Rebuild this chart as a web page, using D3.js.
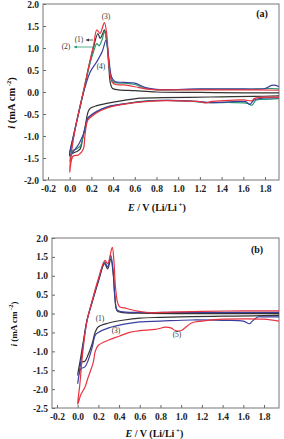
<!DOCTYPE html>
<html>
<head>
<meta charset="utf-8">
<script src="https://cdn.jsdelivr.net/npm/d3@7"></script>
<style>
  body { margin: 0; background: #fff; }
  svg { display: block; }
</style>
</head>
<body>
<div id="chart"></div>
<script>
// tick values
var aXTicks = [-0.2, 0.0, 0.2, 0.4, 0.6, 0.8, 1.0, 1.2, 1.4, 1.6, 1.8];
var aYTicks = [-2.0, -1.5, -1.0, -0.5, 0.0, 0.5, 1.0, 1.5, 2.0];
var bXTicks = aXTicks;
var bYTicks = [-2.5, -2.0, -1.5, -1.0, -0.5, 0.0, 0.5, 1.0, 1.5, 2.0];

// panel (a) curves [E, i], cathodic sweep then anodic sweep
var a1 = [[1.93,-0.09],[1.7,-0.1],[1.4,-0.11],[1.1,-0.12],[0.85,-0.13],[0.65,-0.14],[0.5,-0.19],[0.34,-0.26],[0.25,-0.31],[0.19,-0.37],[0.17,-0.45],[0.145,-0.75],[0.12,-1.05],[0.095,-1.3],[0.06,-1.36],[0.03,-1.39],[0.0,-1.44],
  [0.03,-1.05],[0.06,-0.72],[0.098,-0.32],[0.14,0.15],[0.18,0.62],[0.22,1.02],[0.26,1.33],[0.28,1.22],[0.30,1.3],[0.32,1.41],[0.34,1.2],[0.36,0.6],[0.375,0.2],[0.395,0.08],[0.45,0.05],[0.6,0.03],[0.8,0.0],[1.2,-0.01],[1.6,-0.02],[1.93,-0.02]];
var a2 = [[1.93,-0.15],[1.8,-0.17],[1.72,-0.18],[1.68,-0.3],[1.64,-0.26],[1.5,-0.24],[1.3,-0.24],[1.1,-0.21],[0.9,-0.19],[0.7,-0.2],[0.5,-0.27],[0.34,-0.35],[0.25,-0.45],[0.19,-0.55],[0.165,-0.62],[0.14,-0.85],[0.12,-1.05],[0.1,-1.22],[0.06,-1.3],[0.03,-1.33],[0.0,-1.58],
  [0.03,-1.1],[0.06,-0.72],[0.098,-0.3],[0.14,0.15],[0.18,0.58],[0.22,0.92],[0.25,1.1],[0.27,1.05],[0.30,1.2],[0.32,1.38],[0.34,1.15],[0.365,0.6],[0.385,0.3],[0.405,0.22],[0.5,0.2],[0.6,0.17],[0.7,0.08],[0.8,0.05],[1.2,0.06],[1.6,0.06],[1.85,0.08],[1.93,0.07]];
var a3 = [[1.93,-0.12],[1.7,-0.15],[1.68,-0.2],[1.6,-0.18],[1.4,-0.2],[1.3,-0.22],[1.25,-0.25],[1.2,-0.22],[1.0,-0.2],[0.8,-0.2],[0.6,-0.24],[0.45,-0.3],[0.34,-0.37],[0.25,-0.47],[0.19,-0.58],[0.165,-0.65],[0.14,-1.0],[0.125,-1.3],[0.08,-1.43],[0.03,-1.46],[0.0,-1.82],
  [0.02,-1.3],[0.05,-0.85],[0.098,-0.3],[0.14,0.17],[0.18,0.63],[0.22,1.06],[0.25,1.41],[0.28,1.33],[0.30,1.45],[0.32,1.58],[0.34,1.35],[0.365,0.54],[0.39,0.23],[0.42,0.17],[0.5,0.16],[0.6,0.12],[0.7,0.07],[0.8,0.05],[1.2,0.05],[1.6,0.05],[1.93,0.04]];
var a4 = [[1.93,-0.13],[1.75,-0.15],[1.7,-0.18],[1.66,-0.28],[1.62,-0.22],[1.5,-0.22],[1.3,-0.24],[1.1,-0.2],[0.9,-0.19],[0.7,-0.21],[0.5,-0.27],[0.34,-0.34],[0.25,-0.44],[0.19,-0.54],[0.165,-0.6],[0.14,-0.85],[0.12,-1.0],[0.11,-1.05],[0.08,-1.2],[0.04,-1.33],[0.0,-1.45],
  [0.03,-1.05],[0.06,-0.72],[0.098,-0.3],[0.14,0.1],[0.19,0.46],[0.25,0.69],[0.30,0.92],[0.335,1.18],[0.36,0.77],[0.385,0.35],[0.415,0.24],[0.5,0.22],[0.6,0.2],[0.7,0.1],[0.8,0.06],[1.2,0.07],[1.6,0.07],[1.8,0.08],[1.86,0.15],[1.9,0.15],[1.93,0.12]];

// panel (b) curves
var b1 = [[1.95,-0.05],[1.7,-0.06],[1.4,-0.07],[1.1,-0.08],[0.8,-0.1],[0.6,-0.12],[0.45,-0.17],[0.3,-0.25],[0.2,-0.35],[0.17,-0.49],[0.14,-0.8],[0.1,-1.1],[0.07,-1.26],[0.04,-1.28],[0.02,-1.35],[0.0,-1.63],
  [0.03,-1.15],[0.06,-0.65],[0.09,-0.18],[0.14,0.3],[0.2,0.85],[0.26,1.32],[0.29,1.18],[0.32,1.45],[0.345,1.0],[0.36,0.4],[0.38,0.08],[0.42,0.03],[0.6,0.01],[1.0,0.0],[1.5,0.0],[1.95,0.0]];
var b3 = [[1.95,-0.09],[1.8,-0.09],[1.74,-0.09],[1.68,-0.22],[1.66,-0.27],[1.6,-0.2],[1.4,-0.18],[1.1,-0.17],[0.8,-0.2],[0.6,-0.22],[0.45,-0.28],[0.3,-0.38],[0.2,-0.5],[0.17,-0.57],[0.14,-0.9],[0.1,-1.25],[0.07,-1.41],[0.03,-1.47],[0.0,-1.85],
  [0.03,-1.3],[0.06,-0.7],[0.09,-0.18],[0.14,0.32],[0.2,0.88],[0.26,1.37],[0.29,1.23],[0.32,1.54],[0.345,1.05],[0.36,0.45],[0.38,0.1],[0.42,0.05],[0.6,0.03],[1.0,0.03],[1.5,0.03],[1.95,0.03]];
var b5 = [[1.95,-0.2],[1.8,-0.15],[1.6,-0.14],[1.4,-0.15],[1.2,-0.2],[1.1,-0.25],[1.0,-0.45],[0.95,-0.46],[0.9,-0.38],[0.85,-0.36],[0.75,-0.42],[0.6,-0.45],[0.5,-0.5],[0.4,-0.6],[0.3,-0.7],[0.2,-0.84],[0.17,-1.0],[0.15,-1.3],[0.1,-1.7],[0.07,-1.95],[0.03,-2.15],[0.0,-2.4],
  [0.02,-1.9],[0.05,-1.0],[0.09,-0.2],[0.14,0.34],[0.2,0.92],[0.264,1.41],[0.29,1.32],[0.334,1.75],[0.35,1.4],[0.365,0.7],[0.385,0.3],[0.405,0.18],[0.45,0.15],[0.55,0.08],[0.7,0.02],[0.9,0.04],[1.2,0.06],[1.6,0.07],[1.95,0.07]];

var colBlack = "#333333", colGreen = "#2a9a72", colRed = "#e8333f", colBlue = "#3b3f9c";
var serif = "'Liberation Serif', 'Times New Roman', serif";

var svg = d3.select("#chart").append("svg")
  .attr("width", 284)
  .attr("height", 439);

function drawPanel(p) {
  var x = d3.scaleLinear().domain(p.xDomain).range([p.left, p.right]);
  var y = d3.scaleLinear().domain(p.yDomain).range([p.bottom, p.top]);
  var g = svg.append("g");

  g.append("clipPath").attr("id", p.id + "clip")
    .append("rect")
    .attr("x", p.left).attr("y", p.top)
    .attr("width", p.right - p.left).attr("height", p.bottom - p.top);

  var fmt = function(d) { return d.toFixed(1); };

  function styleAxis(a) {
    a.select(".domain").remove();
    a.attr("font-family", serif).attr("font-size", 9.5).attr("font-weight", "bold");
    a.selectAll(".tick line").attr("stroke", "#666");
    a.selectAll(".tick text").attr("fill", "#222");
  }

  g.append("g")
    .attr("transform", "translate(0," + p.bottom + ")")
    .call(d3.axisBottom(x).tickValues(p.xTicks).tickFormat(fmt).tickSizeInner(-3).tickSizeOuter(0).tickPadding(5))
    .call(styleAxis);

  g.append("g")
    .attr("transform", "translate(" + p.left + ",0)")
    .call(d3.axisLeft(y).tickValues(p.yTicks).tickFormat(fmt).tickSizeInner(-3).tickSizeOuter(0).tickPadding(4))
    .call(styleAxis);

  g.append("rect")
    .attr("x", p.left).attr("y", p.top)
    .attr("width", p.right - p.left).attr("height", p.bottom - p.top)
    .attr("fill", "none").attr("stroke", "#777").attr("stroke-width", 1);

  var line = d3.line()
    .x(function(d) { return x(d[0]); })
    .y(function(d) { return y(d[1]); })
    .curve(d3.curveCatmullRom.alpha(0.5));

  p.series.forEach(function(s) {
    g.append("path")
      .datum(s.data)
      .attr("clip-path", "url(#" + p.id + "clip)")
      .attr("fill", "none")
      .attr("stroke", s.color)
      .attr("stroke-width", 1.2)
      .attr("d", line);
  });

  // axis titles
  var xt = g.append("text")
    .attr("font-family", serif).attr("font-weight", "bold").attr("fill", "#111")
    .attr("x", (p.left + p.right) / 2 + p.xTitleShift).attr("y", p.xTitleY)
    .attr("text-anchor", "middle").attr("font-size", 10);
  xt.append("tspan").attr("font-style", "italic").text("E");
  xt.append("tspan").text(" / V (Li/Li");
  xt.append("tspan").attr("dy", -4).attr("font-size", 7).text(" +");
  xt.append("tspan").attr("dy", 4).text(")");

  var yt = g.append("text")
    .attr("font-family", serif).attr("font-weight", "bold").attr("fill", "#111")
    .attr("transform", "translate(" + p.yTitleX + "," + p.yTitleY + ") rotate(-90)")
    .attr("text-anchor", "middle").attr("font-size", p.yTitleSize);
  yt.append("tspan").attr("font-style", "italic").text("i");
  yt.append("tspan").text(" (mA cm");
  yt.append("tspan").attr("dy", -4).attr("font-size", 6.5).text(" -2");
  yt.append("tspan").attr("dy", 4).text(")");

  g.append("text")
    .attr("font-family", serif).attr("font-weight", "bold").attr("fill", "#111")
    .attr("x", p.tag[0]).attr("y", p.tag[1])
    .attr("text-anchor", "middle").attr("font-size", 10)
    .text(p.tag[2]);

  p.notes.forEach(function(n) {
    g.append("text")
      .attr("font-family", serif).attr("font-size", 7.5).attr("fill", "#333")
      .attr("x", n[0]).attr("y", n[1])
      .attr("text-anchor", "middle").text(n[2]);
  });

  (p.arrows || []).forEach(function(ar) {
    g.append("line")
      .attr("x1", ar[0]).attr("y1", ar[1]).attr("x2", ar[2]).attr("y2", ar[1])
      .attr("stroke", ar[3]).attr("stroke-width", 0.8);
    g.append("path")
      .attr("d", "M" + ar[2] + "," + ar[1] + "l3,-1.5l0,3z")
      .attr("fill", ar[3]);
  });
}

drawPanel({
  id: "a", left: 43, right: 279, top: 4, bottom: 180,
  xDomain: [-0.246, 1.929], yDomain: [-2.0, 2.0],
  xTicks: aXTicks, yTicks: aYTicks,
  series: [{data: a1, color: colBlack}, {data: a2, color: colGreen}, {data: a4, color: colBlue}, {data: a3, color: colRed}],
  xTitleY: 211, xTitleShift: -4,
  yTitleX: 15, yTitleY: 103, yTitleSize: 10.5,
  tag: [262, 17, "(a)"],
  notes: [[106, 19, "(3)"], [79, 42, "(1)"], [66, 49, "(2)"], [101, 69, "(4)"]],
  arrows: [[93, 40, 86, colBlack], [93, 47, 74, colGreen]]
});

drawPanel({
  id: "b", left: 52, right: 279, top: 238, bottom: 408,
  xDomain: [-0.248, 1.945], yDomain: [-2.5, 2.0],
  xTicks: bXTicks, yTicks: bYTicks,
  series: [{data: b1, color: colBlack}, {data: b3, color: colBlue}, {data: b5, color: colRed}],
  xTitleY: 437, xTitleShift: -11,
  yTitleX: 17, yTitleY: 324, yTitleSize: 9,
  tag: [257, 253, "(b)"],
  notes: [[100, 321, "(1)"], [116, 333, "(3)"], [177, 337, "(5)"]]
});
</script>
</body>
</html>
